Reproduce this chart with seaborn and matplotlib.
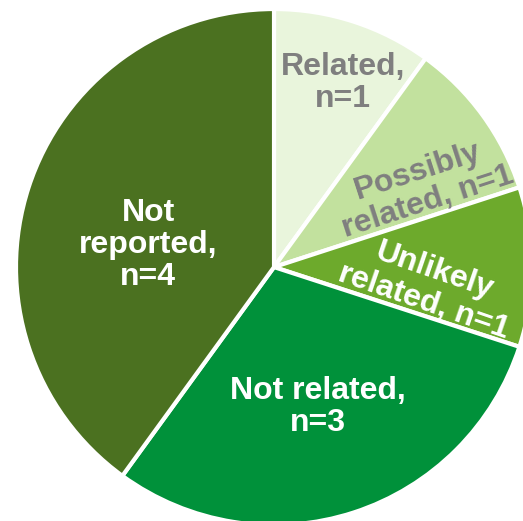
import numpy as np
import seaborn as sns
import matplotlib.pyplot as plt

categories = ["Related", "Possibly related", "Unlikely related", "Not related", "Not reported"]
counts = [1, 1, 1, 3, 4]
labels = ["Related,\nn=1", "Possibly\nrelated, n=1", "Unlikely\nrelated, n=1", "Not related,\nn=3", "Not\nreported,\nn=4"]
colors = ["#E9F5DC", "#C2E19E", "#6DAA2C", "#00913A", "#4B7120"]
text_colors = ["#7F7F7F", "#7F7F7F", "white", "white", "white"]

sns.set_style("white")
plt.rcParams['font.family'] = ['Liberation Sans', 'DejaVu Sans']

fig = plt.figure(figsize=(5.23, 5.21), dpi=100)
ax = fig.add_axes([0, 0, 1, 1])
ax.pie(counts, colors=colors, startangle=90, counterclock=False,
       wedgeprops=dict(edgecolor="white", linewidth=3))

# label placement (data coords) and rotation
label_pos = [(0.267, 0.713), (0.577, 0.31), (0.6, -0.075), (0.171, -0.543), (-0.488, 0.085)]
label_rot = [0, 18, -19, 0, 0]
for lab, (x, y), rot, tc in zip(labels, label_pos, label_rot, text_colors):
    ax.text(x, y, lab, ha="center", va="center", rotation=rot, rotation_mode="anchor",
            color=tc, fontsize=23, fontweight="bold", multialignment="center",
            linespacing=1.1)

ax.set_aspect("auto")
ax.set_xlim(-1.062, 0.965)
ax.set_ylim(-0.984, 1.035)
ax.axis("off")
fig.savefig("out.png", dpi=100)
